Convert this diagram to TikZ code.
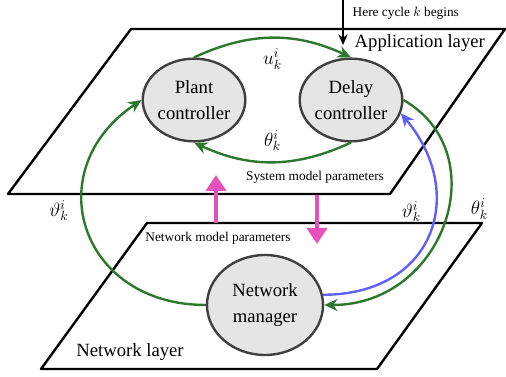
\documentclass[tikz,border=0pt]{standalone}
\usepackage{fontspec}
\setmainfont{Liberation Serif}
\usetikzlibrary{arrows.meta,positioning,shapes.geometric}
\definecolor{flowgreen}{RGB}{45,120,45}
\definecolor{flowblue}{RGB}{95,95,250}
\definecolor{parammag}{RGB}{230,80,185}

\begin{document}
\begin{tikzpicture}[
    x=0.75pt, y=0.75pt,
    >={Stealth[length=10pt,width=9pt]},
    font=\fontsize{14}{19}\selectfont,
    plane/.style={
		draw=black,
		line width=1.8pt,
		line join=round
	},
    unit/.style={
		ellipse,
		draw=black!75,
		line width=1.8pt,
		fill=gray!20,
		inner sep=0pt,
		align=center,
		minimum width=73pt,
		minimum height=62pt
	},
    flow/.style={
		->,
		draw=flowgreen,
		line width=1.8pt
	},
    small/.style={
		font=\fontsize{10}{12}\selectfont
	},
    param/.style={
		-{Triangle[length=12pt,width=15pt]},
		draw=parammag,
		line width=3.5pt
	}
  ]
  \useasboundingbox (0,0) rectangle (506,377);

  % We start with the two layers
  \draw [plane] (131,348) -- (505,348) -- (390,183) -- (8,183) -- cycle;
  \draw [plane] (147,154) -- (482,154) -- (377,8) -- (41,8) -- cycle;

  \node [anchor=west] (applayer) at (350,334) {Application layer};
  \node (netlayer) at (130,25) {Network layer};

  % then the blocks
  \node [unit] (plant) at (194,277) {Plant\\controller};
  \node [unit, right=39pt of plant] (delay) {Delay\\controller};
  \node [unit, minimum width=87pt, minimum height=75pt] (netman) at (265,72) {Network\\manager};

  % loops between the blocks
  \draw [flow] (plant.north) to [bend left=25] node [below=4pt] {$u_k^i$} (delay.north);
  \draw [flow] (delay.south) to [bend left=25] node [above=4pt] {$\theta_k^i$} (plant.south);
  \draw [flow] (netman.west) to [out=180, in=214, out looseness=1.5, in looseness=1.5]
    node [pos=0.57, left=7pt] {$\vartheta_k^i$} (plant.west);
  \draw [flow] (delay.east) to [out=-30, in=0, out looseness=1.25, in looseness=1.4]
    node [pos=0.45, right=13pt] {$\theta_k^i$} (netman.east);
  \draw [flow, draw=flowblue] (netman.10) to [out=0, in=-50, out looseness=1.45, in looseness=1.35]
    node [pos=0.6, left=6pt] {$\vartheta_k^i$} (delay.-15);

  % parameters exchanged between the layers
  \node [small] (sysparam) at (315,200) {System model parameters};
  \node [small] (netparam) at (218,139) {Network model parameters};
  \coordinate (upstart) at (216,154);
  \coordinate (uptip) at (216,202);
  \coordinate (downstart) at (317,182);
  \coordinate (downtip) at (317,133);
  \draw [param] (upstart) -- (uptip);
  \draw [param] (downstart) -- (downtip);

  % start of the cycle
  \coordinate (cyclestart) at (343,377);
  \coordinate (cycleend) at (343,332);
  \draw [-{Stealth[length=8pt,width=7pt]}, line width=0.9pt] (cyclestart) -- (cycleend);
  \node [small, anchor=west] (cyclenote) at (348,364) {Here cycle $k$ begins};

\end{tikzpicture}
\end{document}
